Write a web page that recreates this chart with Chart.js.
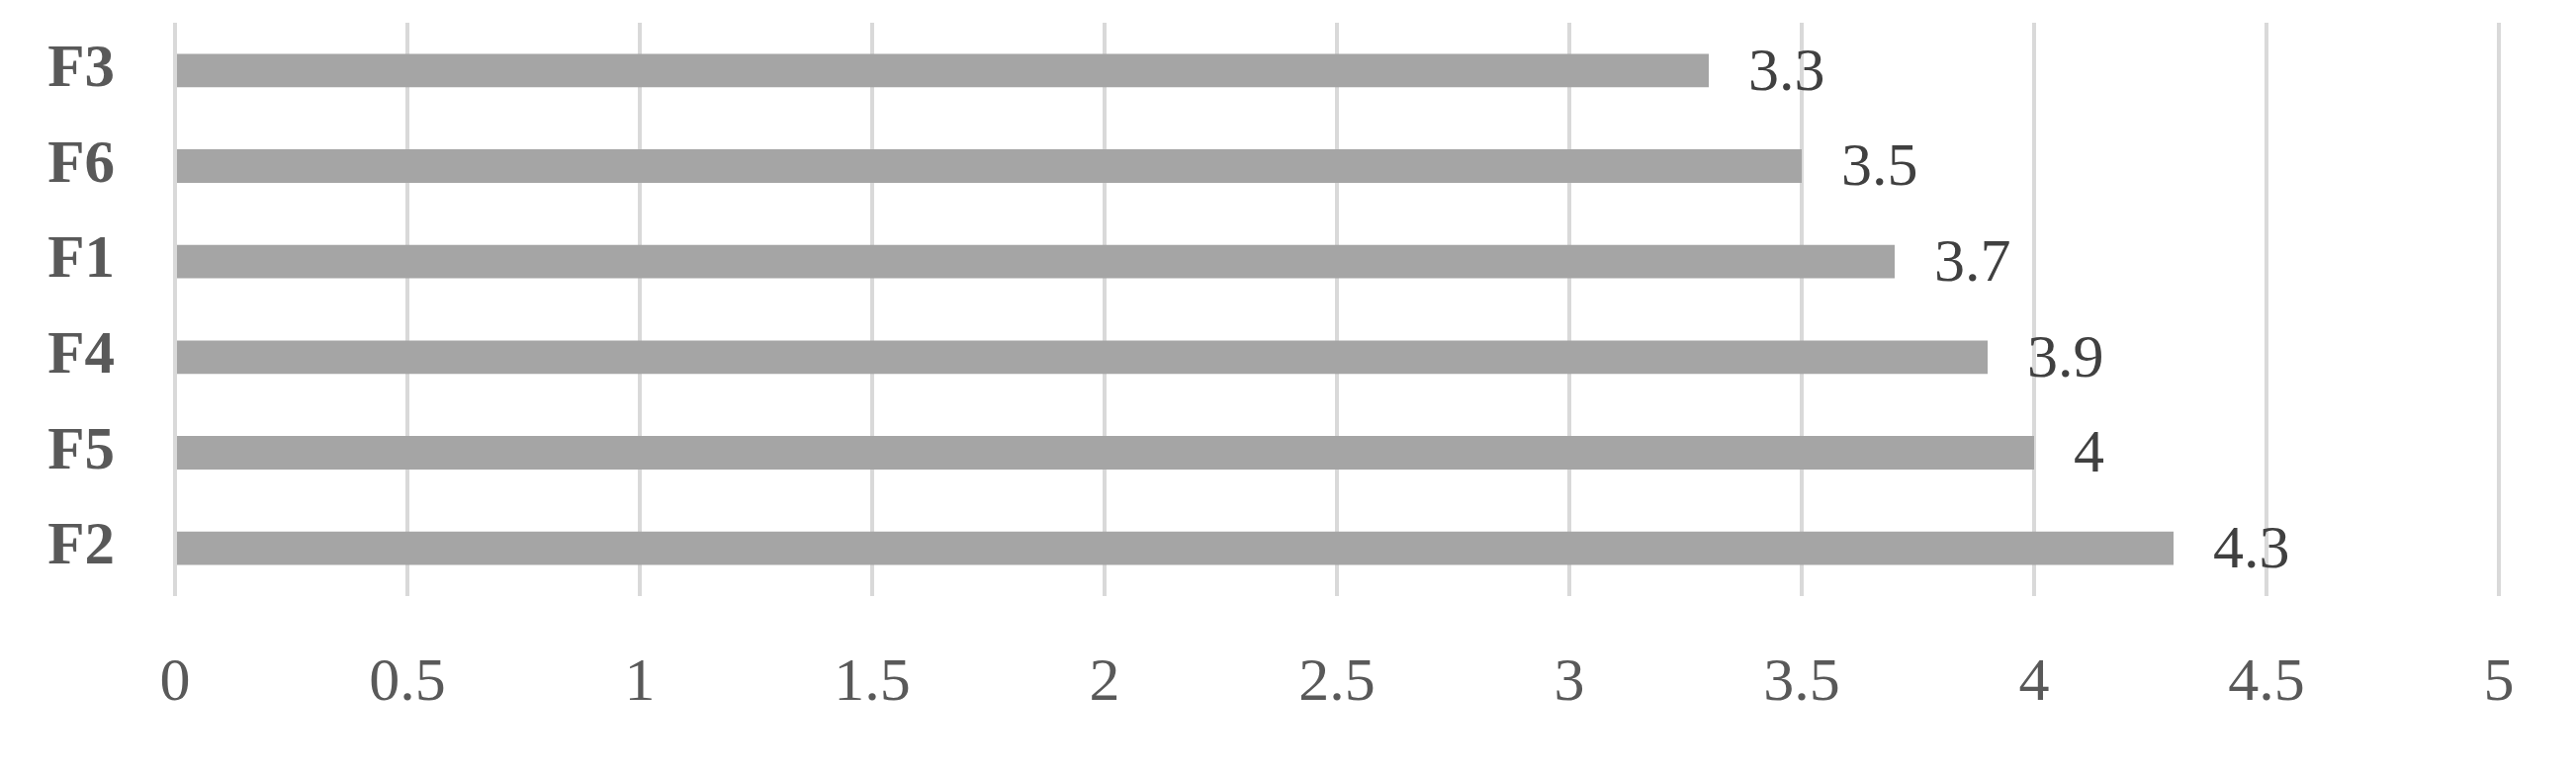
<!DOCTYPE html>
<html>
<head>
<meta charset="utf-8">
<style>
  html, body { margin: 0; padding: 0; background: #ffffff; }
  #wrap { width: 2605px; height: 783px; }
</style>
<script src="https://cdn.jsdelivr.net/npm/chart.js@4/dist/chart.umd.min.js"></script>
</head>
<body>
<div id="wrap"><canvas id="myChart" width="2605" height="783"></canvas></div>
<script>
// values, top to bottom
var categories = ["F3", "F6", "F1", "F4", "F5", "F2"]
var scores = [3.3, 3.5, 3.7, 3.9, 4, 4.3]
var xTicks = [0, 0.5, 1, 1.5, 2, 2.5, 3, 3.5, 4, 4.5, 5]

var serif = "'Liberation Serif', 'DejaVu Serif', serif"

// draws the number just past the end of each bar
var barValues = {
  id: "barValues",
  afterDatasetsDraw: function(chart){
    var ctx = chart.ctx
    var meta = chart.getDatasetMeta(0)
    ctx.save()
    ctx.font = "62px " + serif
    ctx.fillStyle = "#404040"
    ctx.textAlign = "left"
    ctx.textBaseline = "middle"
    meta.data.forEach(function(bar, i){
      ctx.fillText(String(scores[i]), bar.x + 40, bar.y + 3)
    })
    ctx.restore()
  }
}

var ctx = document.getElementById("myChart")
var myChart = new Chart(ctx, {
  type: "bar",
  data: {
    labels: categories,
    datasets: [{
      data: scores,
      backgroundColor: "#a5a5a5",
      borderWidth: 0,
      categoryPercentage: 1,
      barPercentage: 0.35
    }]
  },
  options: {
    indexAxis: "y",
    responsive: false,
    animation: false,
    layout: { padding: { top: 23, right: 78, left: 0, bottom: 0 } },
    plugins: {
      legend: { display: false },
      tooltip: { enabled: false }
    },
    scales: {
      x: {
        min: 0,
        max: 5,
        afterBuildTicks: function(scale){
          scale.ticks = xTicks.map(function(v){ return { value: v } })
        },
        afterFit: function(scale){
          scale.height = 180
          scale.paddingLeft = 0
          scale.paddingRight = 0
        },
        grid: { color: "#d9d9d9", lineWidth: 4, drawTicks: false },
        border: { display: false },
        ticks: {
          padding: 52,
          color: "#595959",
          font: { family: serif, size: 62 },
          callback: function(v){ return String(v) }
        }
      },
      y: {
        afterFit: function(scale){
          scale.width = 177
          scale.paddingTop = 0
          scale.paddingBottom = 0
        },
        grid: { display: false },
        border: { display: false },
        ticks: {
          padding: 53,
          color: "#595959",
          font: { family: serif, size: 61, weight: "bold" }
        }
      }
    }
  },
  plugins: [barValues]
})
</script>
</body>
</html>
